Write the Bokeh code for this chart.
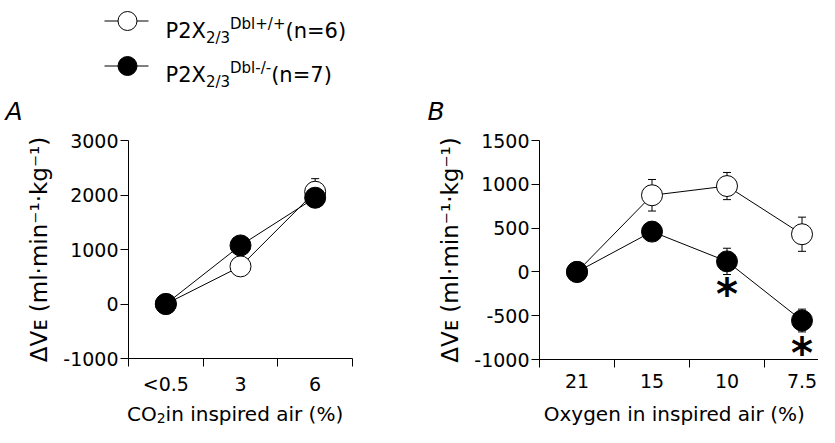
import numpy as np
from bokeh.plotting import figure
from bokeh.models import (Range1d, FixedTicker, Whisker, TeeHead, ColumnDataSource, Label)
from bokeh.layouts import row, column
from bokeh.embed import file_html
from bokeh.resources import INLINE
from bokeh.core.properties import value

# ---------------- data ----------------
co2_cats = ["<0.5", "3", "6"]
co2_wt = [0, 690, 2060]
co2_wt_sem = [0, 110, 240]
co2_ko = [0, 1075, 1950]
co2_ko_sem = [0, 130, 150]

o2_cats = ["21", "15", "10", "7.5"]
o2_wt = [0, 875, 980, 430]
o2_wt_sem = [0, 180, 155, 195]
o2_ko = [0, 460, 120, -555]
o2_ko_sem = [0, 90, 150, 130]
o2_sig = [False, False, True, True]

yticks_A = [-1000, 0, 1000, 2000, 3000]
yticks_B = [-1000, -500, 0, 500, 1000, 1500]

legend_labels = [
    [("P2X", 0), ("2/3", -1), ("Dbl+/+", 1), ("(n=6)", 0)],
    [("P2X", 0), ("2/3", -1), ("Dbl-/-", 1), ("(n=7)", 0)],
]
legend_fills = ["white", "black"]
y_title = "ΔVᴇ (ml·min⁻¹·kg⁻¹)"

FONT = "DejaVu Sans"

# DejaVu Sans advance widths (em)
W = {" ": .318, "0": .636, "1": .636, "2": .636, "3": .636, "4": .636, "5": .636,
     "6": .636, "7": .636, "8": .636, "9": .636, ".": .318, "-": .361, "/": .337,
     "(": .390, ")": .390, "%": .950, "+": .838, "=": .838, "<": .838, "·": .318,
     "Δ": .684, "A": .684, "B": .686, "C": .698, "D": .770, "E": .632, "O": .787,
     "P": .603, "V": .684, "X": .685, "a": .613, "b": .635, "d": .635, "e": .615,
     "g": .635, "i": .278, "k": .579, "l": .278, "m": .974, "n": .634, "p": .635,
     "r": .411, "s": .521, "x": .592, "y": .592}


def tw(s, size):
    return sum(W.get(c, 0.6) for c in s) * size


def add_rich(p, x, y, pieces, align="left"):
    total = sum(tw(t, s) for t, s, _ in pieces)
    pos = -total / 2 if align == "center" else 0
    for t, s, shift in pieces:
        p.add_layout(Label(x=x + pos, y=y + shift, x_units="screen", y_units="screen",
                           text=t, text_font=FONT, text_font_size=f"{s}px",
                           text_color="black", text_baseline="alphabetic",
                           text_align="left"))
        pos += tw(t, s)


def blank(width, height):
    f = figure(width=width, height=height, output_backend="svg", toolbar_location=None,
               x_range=Range1d(0, width), y_range=Range1d(0, height),
               x_axis_type=None, y_axis_type=None, frame_align=False,
               min_border_left=0, min_border_right=0, min_border_top=0, min_border_bottom=0)
    f.outline_line_color = None
    f.grid.visible = False
    return f


TOTAL_W = 818
TOP_H = 125
PANEL_H = 272
BOT_H = 29


def make_panel(cats, wt, wt_sem, ko, ko_sem, yticks, width, border_left, border_right, x_end):
    n = len(cats)
    xs = np.arange(n) + 0.5
    p = figure(width=width, height=PANEL_H, output_backend="svg", toolbar_location=None,
               x_range=Range1d(0, x_end), y_range=Range1d(min(yticks), max(yticks)),
               frame_align=False,
               min_border_left=border_left, min_border_right=border_right,
               min_border_top=15, min_border_bottom=38)
    p.outline_line_color = None
    p.grid.visible = False

    wt = np.array(wt, float); ko = np.array(ko, float)
    wt_sem = np.array(wt_sem, float); ko_sem = np.array(ko_sem, float)

    for vals, sem in ((wt, wt_sem), (ko, ko_sem)):
        src = ColumnDataSource(dict(x=xs, upper=vals + sem, lower=vals - sem))
        p.add_layout(Whisker(base="x", upper="upper", lower="lower", source=src,
                             dimension="height", line_color="black", line_width=1,
                             upper_head=TeeHead(size=8, line_color="black", line_width=1),
                             lower_head=TeeHead(size=8, line_color="black", line_width=1),
                             level="underlay"))

    p.line(xs, wt, line_color="black", line_width=1)
    p.line(xs, ko, line_color="black", line_width=1)
    p.scatter(xs, wt, size=21, fill_color="white", line_color="black", line_width=1)
    p.scatter(xs, ko, size=21, fill_color="black", line_color="black", line_width=1)

    ya = p.yaxis[0]
    ya.ticker = FixedTicker(ticks=yticks)
    ya.major_label_overrides = {v: str(v) for v in yticks}
    ya.major_tick_in = 0
    ya.major_tick_out = 8
    ya.minor_tick_out = 0
    ya.minor_tick_in = 0
    ya.major_label_standoff = 2
    ya.major_label_text_font = FONT
    ya.major_label_text_font_size = "19px"
    ya.major_label_text_color = "black"
    ya.axis_line_color = "black"
    ya.major_tick_line_color = "black"
    ya.axis_label = y_title
    ya.axis_label_text_font = FONT
    ya.axis_label_text_font_size = "23px"
    ya.axis_label_text_font_style = "normal"
    ya.axis_label_text_color = "black"
    ya.axis_label_standoff = 8

    xa = p.xaxis[0]
    xa.ticker = FixedTicker(ticks=list(xs), minor_ticks=list(np.arange(n + 1)))
    xa.major_label_overrides = {float(x): c for x, c in zip(xs, cats)}
    xa.major_tick_in = 0
    xa.major_tick_out = 0
    xa.minor_tick_in = 0
    xa.minor_tick_out = 8
    xa.minor_tick_line_color = "black"
    xa.axis_line_color = "black"
    xa.major_label_standoff = 6
    xa.major_label_text_font = FONT
    xa.major_label_text_font_size = "19px"
    xa.major_label_text_color = "black"
    return p, xs


pA, xsA = make_panel(co2_cats, co2_wt, co2_wt_sem, co2_ko, co2_ko_sem, yticks_A,
                     400, 128, 48, 3)
pB, xsB = make_panel(o2_cats, o2_wt, o2_wt_sem, o2_ko, o2_ko_sem, yticks_B,
                     TOTAL_W - 400, 139, 0, (TOTAL_W - 539) / 75)

# significance asterisks (below KO points)
sig_x = [x for x, s in zip(xsB, o2_sig) if s]
sig_y = [v for v, s in zip(o2_ko, o2_sig) if s]
pB.text(x=sig_x, y=sig_y, text=["*"] * len(sig_x), text_font=value(FONT),
        text_font_style="bold", text_font_size="42px", text_color="black",
        text_align="center", text_baseline="alphabetic", y_offset=33)

# ---------------- top strip: legend + panel letters ----------------
top = blank(TOTAL_W, TOP_H)
row_y = [TOP_H - 20.5, TOP_H - 65.5]       # key centres (pixels from strip bottom)
top.segment(x0=[104] * 2, y0=row_y, x1=[148] * 2, y1=row_y, line_color="black", line_width=1)
top.scatter(x=[127] * 2, y=row_y, size=19, fill_color=legend_fills, line_color="black",
            line_width=1)
size_of = {0: 21, -1: 15, 1: 15}
shift_of = {0: 0, -1: -7, 1: 7}
for lab, yb in zip(legend_labels, [TOP_H - 30, TOP_H - 74]):
    add_rich(top, 165, yb, [(t, size_of[k], shift_of[k]) for t, k in lab])

for txt, x in (("A", 5), ("B", 427)):
    top.add_layout(Label(x=x, y=TOP_H - 111, x_units="screen", y_units="screen",
                         text=txt, text_font=FONT,
                         text_font_style="italic", text_font_size="25px",
                         text_color="black", text_baseline="alphabetic"))

# ---------------- bottom strip: x-axis titles ----------------
bot = blank(TOTAL_W, BOT_H)
add_rich(bot, 238, 13, [("CO", 20, 0), ("2", 14, -4), (" in inspired air (%)", 20, 0)],
         align="center")
add_rich(bot, 674, 13, [("Oxygen in inspired air (%)", 20, 0)], align="center")

layout = column(top, row(pA, pB), bot)
open("out.html", "w").write(file_html(layout, INLINE))
